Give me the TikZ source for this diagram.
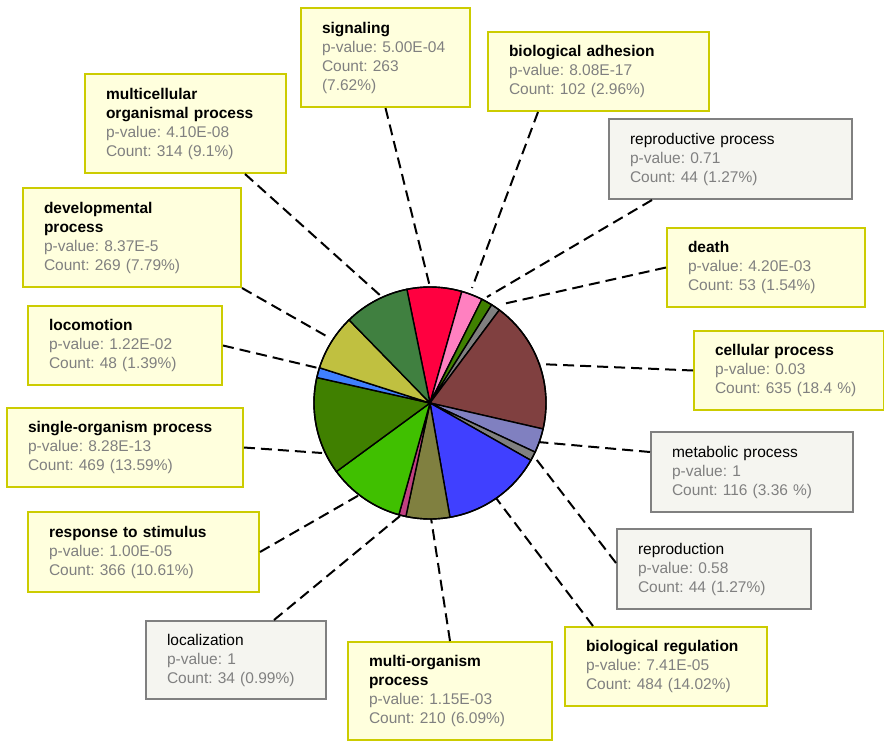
\documentclass[tikz,border=0pt]{standalone}
\usepackage{fontspec}
\setmainfont{Liberation Sans}
\frenchspacing
\definecolor{yfill}{RGB}{255,255,221}
\definecolor{yline}{RGB}{204,204,0}
\definecolor{gfill}{RGB}{245,245,240}
\definecolor{gline}{RGB}{128,128,128}
\definecolor{detail}{RGB}{128,128,128}
\definecolor{cSig}{RGB}{255,0,64}
\definecolor{cAdh}{RGB}{255,128,192}
\definecolor{cDea}{RGB}{64,128,0}
\definecolor{cRpp}{RGB}{128,128,128}
\definecolor{cCel}{RGB}{128,64,64}
\definecolor{cMet}{RGB}{128,128,192}
\definecolor{cRep}{RGB}{128,128,128}
\definecolor{cBre}{RGB}{64,64,255}
\definecolor{cMul}{RGB}{128,128,64}
\definecolor{cLzn}{RGB}{192,64,128}
\definecolor{cRes}{RGB}{64,192,0}
\definecolor{cSin}{RGB}{64,128,0}
\definecolor{cLcm}{RGB}{64,128,255}
\definecolor{cDev}{RGB}{192,192,64}
\definecolor{cMco}{RGB}{64,128,64}
\tikzset{
  box/.style={anchor=north west, align=left, inner xsep=21pt, inner ysep=0pt,
    line width=2pt, font=\fontsize{15.5}{19}\selectfont},
  ybox/.style={box, draw=yline, fill=yfill},
  gbox/.style={box, draw=gline, fill=gfill},
  link/.style={line width=2pt, dash pattern=on 11pt off 6pt},
  slice/.style={draw=black, line width=1.4pt}
}
\begin{document}
\begin{tikzpicture}[x=1pt,y=-1pt]
\useasboundingbox (0,0) rectangle (884,742);

% boxes
\node[ybox, text width=127pt, minimum height=99pt] (sig) at (300,7)
  {\textbf{signaling}\\\color{detail}p-value: 5.00E-04\\Count: 263\\(7.62\%)};
\node[ybox, text width=179pt, minimum height=79pt] (adh) at (487,31)
  {\textbf{biological adhesion}\\\color{detail}p-value: 8.08E-17\\Count: 102 (2.96\%)};
\node[gbox, text width=201pt, minimum height=80pt] (rpp) at (608,118)
  {reproductive process\\\color{detail}p-value: 0.71\\Count: 44 (1.27\%)};
\node[ybox, text width=156pt, minimum height=79pt] (dea) at (666,227)
  {\textbf{death}\\\color{detail}p-value: 4.20E-03\\Count: 53 (1.54\%)};
\node[ybox, text width=148pt, minimum height=79pt] (cel) at (693,330)
  {\textbf{cellular process}\\\color{detail}p-value: 0.03\\Count: 635 (18.4 \%)};
\node[gbox, text width=160pt, minimum height=80pt] (met) at (650,431)
  {metabolic process\\\color{detail}p-value: 1\\Count: 116 (3.36 \%)};
\node[gbox, text width=152pt, minimum height=80pt] (rep) at (616,528)
  {reproduction\\\color{detail}p-value: 0.58\\Count: 44 (1.27\%)};
\node[ybox, text width=160pt, minimum height=79pt] (bre) at (564,626)
  {\textbf{biological regulation}\\\color{detail}p-value: 7.41E-05\\Count: 484 (14.02\%)};
\node[ybox, text width=162pt, minimum height=98pt] (mul) at (347,641)
  {\textbf{multi-organism}\\\textbf{process}\\\color{detail}p-value: 1.15E-03\\Count: 210 (6.09\%)};
\node[gbox, text width=138pt, minimum height=78pt] (lzn) at (145,620)
  {localization\\\color{detail}p-value: 1\\Count: 34 (0.99\%)};
\node[ybox, text width=189pt, minimum height=80pt] (res) at (27,511)
  {\textbf{response to stimulus}\\\color{detail}p-value: 1.00E-05\\Count: 366 (10.61\%)};
\node[ybox, text width=194pt, minimum height=79pt] (sin) at (6,407)
  {\textbf{single-organism process}\\\color{detail}p-value: 8.28E-13\\Count: 469 (13.59\%)};
\node[ybox, text width=152pt, minimum height=79pt] (lcm) at (27,305)
  {\textbf{locomotion}\\\color{detail}p-value: 1.22E-02\\Count: 48 (1.39\%)};
\node[ybox, text width=176pt, minimum height=99pt] (dev) at (22,187)
  {\textbf{developmental}\\\textbf{process}\\\color{detail}p-value: 8.37E-5\\Count: 269 (7.79\%)};
\node[ybox, text width=159pt, minimum height=99pt] (mco) at (84,73)
  {\textbf{multicellular}\\\textbf{organismal process}\\\color{detail}p-value: 4.10E-08\\Count: 314 (9.1\%)};

% ends of the leaders on the pie
\coordinate (pc) at (430,403);
\coordinate (pSig) at (430,287);
\coordinate (pAdh) at (472,288);
\coordinate (pRpp) at (487,297);
\coordinate (pDea) at (503,304);
\coordinate (pCel) at (538,364);
\coordinate (pMet) at (538,442);
\coordinate (pRep) at (533,455);
\coordinate (pBre) at (496,498);
\coordinate (pMul) at (431,518);
\coordinate (pLzn) at (400,516);
\coordinate (pRes) at (361,494);
\coordinate (pSin) at (322,453);
\coordinate (pLcm) at (318,368);
\coordinate (pDev) at (328,337);
\coordinate (pMco) at (382,297);

\draw[link] (sig.south) -- (pSig);
\draw[link] ([xshift=51pt]adh.south west) -- (pAdh);
\draw[link] ([xshift=44pt]rpp.south west) -- (pRpp);
\draw[link] (dea.west) -- (pDea);
\draw[link] (cel.west) -- (pCel);
\draw[link] ([yshift=-21pt]met.north west) -- (pMet);
\draw[link] ([yshift=-35pt]rep.north west) -- (pRep);
\draw[link] ([xshift=29pt]bre.north west) -- (pBre);
\draw[link] (mul.north) -- (pMul);
\draw[link] ([xshift=-53pt]lzn.north east) -- (pLzn);
\draw[link] (res.east) -- (pRes);
\draw[link] (sin.east) -- (pSin);
\draw[link] (lcm.east) -- (pLcm);
\draw[link] (dev.south east) -- (pDev);
\draw[link] ([xshift=-42pt]mco.south east) -- (pMco);

% pie
\draw[slice, fill=cSig] (pc) -- ++(-101.5:116) arc[start angle=-101.5, end angle=-74.07, radius=116] -- cycle;
\draw[slice, fill=cAdh] (pc) -- ++(-74.07:116) arc[start angle=-74.07, end angle=-63.41, radius=116] -- cycle;
\draw[slice, fill=cDea] (pc) -- ++(-63.41:116) arc[start angle=-63.41, end angle=-57.87, radius=116] -- cycle;
\draw[slice, fill=cRpp] (pc) -- ++(-57.87:116) arc[start angle=-57.87, end angle=-53.30, radius=116] -- cycle;
\draw[slice, fill=cCel] (pc) -- ++(-53.30:116) arc[start angle=-53.30, end angle=12.94, radius=116] -- cycle;
\draw[slice, fill=cMet] (pc) -- ++(12.94:116) arc[start angle=12.94, end angle=25.04, radius=116] -- cycle;
\draw[slice, fill=cRep] (pc) -- ++(25.04:116) arc[start angle=25.04, end angle=29.61, radius=116] -- cycle;
\draw[slice, fill=cBre] (pc) -- ++(29.61:116) arc[start angle=29.61, end angle=80.08, radius=116] -- cycle;
\draw[slice, fill=cMul] (pc) -- ++(80.08:116) arc[start angle=80.08, end angle=102.01, radius=116] -- cycle;
\draw[slice, fill=cLzn] (pc) -- ++(102.01:116) arc[start angle=102.01, end angle=105.57, radius=116] -- cycle;
\draw[slice, fill=cRes] (pc) -- ++(105.57:116) arc[start angle=105.57, end angle=143.77, radius=116] -- cycle;
\draw[slice, fill=cSin] (pc) -- ++(143.77:116) arc[start angle=143.77, end angle=192.69, radius=116] -- cycle;
\draw[slice, fill=cLcm] (pc) -- ++(192.69:116) arc[start angle=192.69, end angle=197.70, radius=116] -- cycle;
\draw[slice, fill=cDev] (pc) -- ++(197.70:116) arc[start angle=197.70, end angle=225.74, radius=116] -- cycle;
\draw[slice, fill=cMco] (pc) -- ++(225.74:116) arc[start angle=225.74, end angle=258.5, radius=116] -- cycle;
\draw[slice] (pc) circle[radius=116];

\end{tikzpicture}
\end{document}
